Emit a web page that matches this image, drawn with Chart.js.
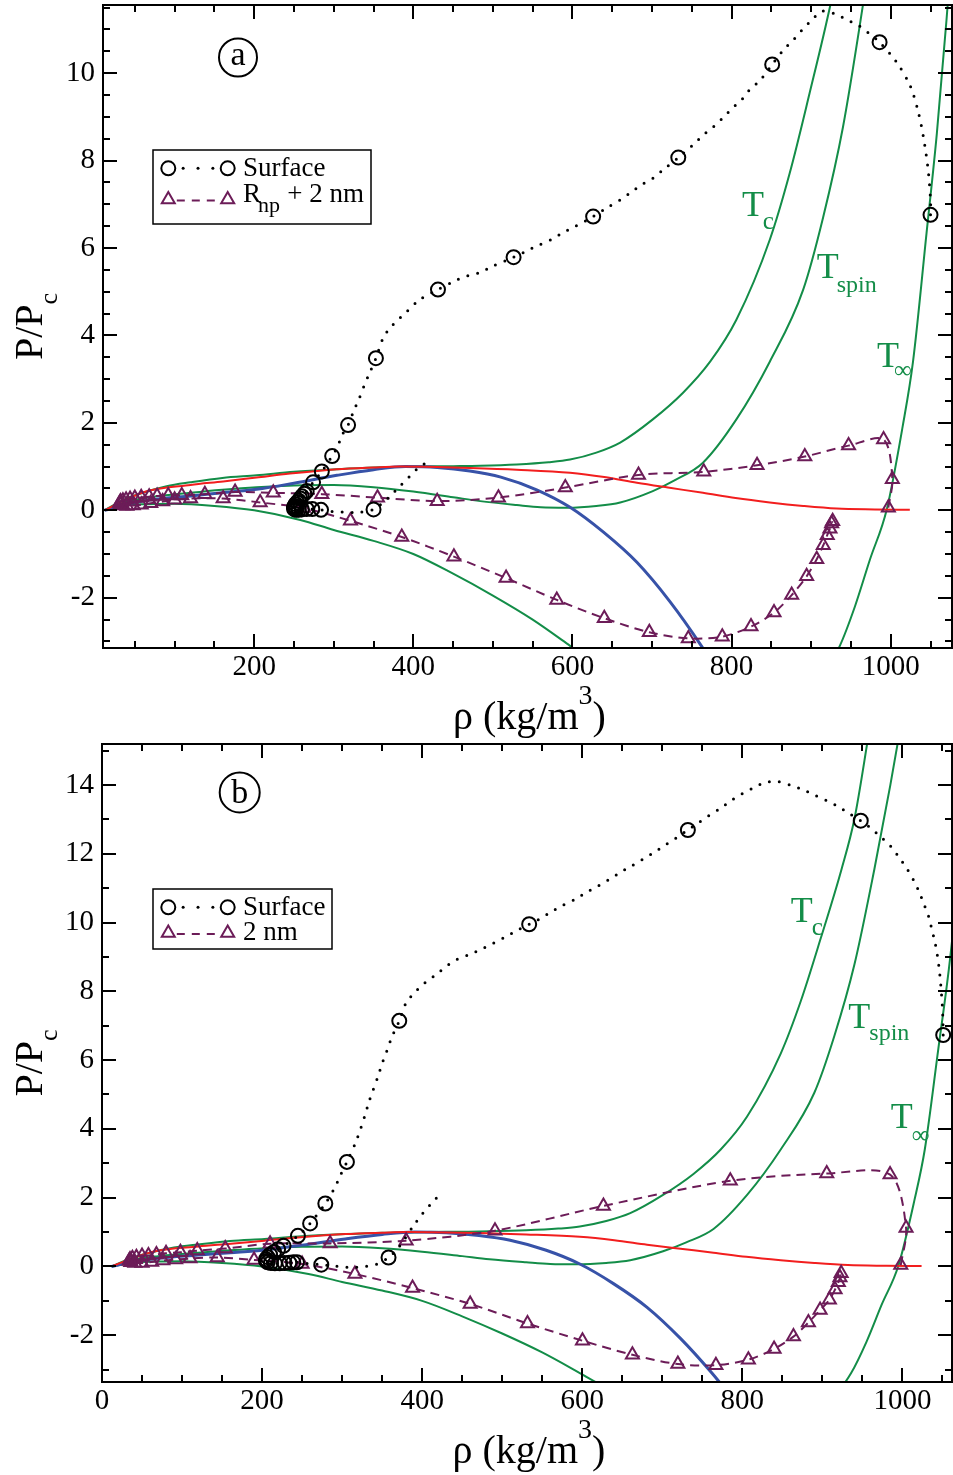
<!DOCTYPE html>
<html>
<head>
<meta charset="utf-8">
<script src="https://cdn.jsdelivr.net/npm/chart.js"></script>
<style>
html,body{margin:0;padding:0;background:#fff;}
canvas{position:absolute;left:0;}
#ca{top:0;}
#cb{top:738px;}
</style>
</head>
<body>
<canvas id="ca" width="953" height="738"></canvas>
<canvas id="cb" width="953" height="737"></canvas>
<script>
// ---------------- DATA ----------------
// axis ticks
const X_TICKS_A = [200, 400, 600, 800, 1000];
const Y_TICKS_A = [-2, 0, 2, 4, 6, 8, 10];
const X_TICKS_B = [0, 200, 400, 600, 800, 1000];
const Y_TICKS_B = [-2, 0, 2, 4, 6, 8, 10, 12, 14];

// isotherms and reference curves  [rho, P/Pc]
const T_C = [[12,0],[36,0.24],[60,0.40],[90,0.55],[120,0.64],[160,0.74],[203,0.80],[250,0.88],[304,0.94],[350,0.98],[404,1.00],[450,1.01],[484,1.02],[530,1.05],[570,1.10],[597,1.16],[630,1.32],[660,1.55],[701,2.08],[739,2.69],[773,3.40],[806,4.36],[848,6.19],[873,7.71],[898,9.54],[924,11.55],[940,13.0],[956,15.2],[972,17.6]];
const T_SPIN = [[12,0],[40,0.20],[70,0.30],[120,0.40],[160,0.47],[203,0.53],[250,0.57],[300,0.58],[350,0.53],[400,0.43],[450,0.30],[484,0.21],[530,0.12],[560,0.07],[593,0.06],[630,0.10],[660,0.18],[701,0.44],[730,0.70],[764,1.09],[806,2.08],[848,3.40],[890,5.05],[915,6.70],[940,8.77],[965,11.55],[985,14.0],[1000,16.0]];
const T_INF = [[12,0],[40,0.12],[66,0.14],[100,0.15],[150,0.10],[200,0.0],[258,-0.22],[300,-0.45],[350,-0.70],[400,-1.00],[450,-1.45],[500,-1.95],[550,-2.50],[597,-3.10],[650,-3.80],[700,-4.40],[760,-4.90],[820,-5.00],[870,-4.60],[910,-3.90],[936,-3.10],[955,-2.20],[974,-1.12],[995,0.02],[1015,1.92],[1028,3.40],[1045,6.34],[1058,8.63],[1070,11.2],[1082,14.0],[1092,16.5]];
const RED_CURVE = [[12,0],[36,0.22],[66,0.44],[120,0.58],[161,0.66],[203,0.75],[245,0.84],[304,0.94],[350,0.98],[383,1.00],[430,0.99],[471,0.97],[530,0.93],[597,0.86],[640,0.76],[681,0.63],[720,0.52],[764,0.40],[805,0.28],[848,0.18],[890,0.10],[932,0.04],[980,0.02],[1024,0.01]];
const BLUE_CURVE = [[12,0],[40,0.14],[70,0.24],[120,0.33],[160,0.40],[203,0.48],[250,0.62],[304,0.80],[350,0.93],[390,1.00],[430,0.98],[471,0.90],[510,0.76],[555,0.47],[597,0.07],[639,-0.50],[681,-1.19],[723,-2.10],[762,-3.10],[790,-3.90]];

// panel (a): Surface (dotted path + circle markers)
const SURF_A_LINE = [[1050,6.76],[1050,7.10],[1047,7.79],[1041,8.55],[1034,9.16],[1024,9.73],[1007,10.26],[986,10.71],[972,10.92],[959,11.10],[945,11.22],[931,11.35],[914,11.42],[901,11.22],[889,11.00],[878,10.77],[865,10.53],[851,10.20],[836,9.84],[823,9.63],[813,9.40],[801,9.20],[789,8.98],[777,8.77],[764,8.58],[752,8.37],[733,8.07],[714,7.79],[702,7.61],[688,7.46],[674,7.28],[660,7.10],[645,6.94],[626,6.72],[603,6.49],[588,6.35],[574,6.20],[558,6.07],[543,5.94],[526,5.79],[499,5.58],[484,5.44],[469,5.37],[455,5.27],[431,5.05],[408,4.82],[392,4.55],[381,4.36],[371,4.18],[362,3.94],[353,3.48],[344,3.10],[338,2.84],[332,2.56],[325,2.27],[318,1.95],[310,1.71],[305,1.46],[298,1.24],[285,0.89],[274,0.64],[266,0.44],[263,0.38],[260,0.32],[258,0.27],[256,0.22],[254,0.18],[252,0.14],[251,0.10],[250,0.07],[250,0.04],[251,0.02],[253,0.01],[256,0.01],[260,0.02],[266,0.03],[273,0.03],[284,0.01],[298,-0.03],[312,-0.04],[330,-0.05],[350,0.02],[362,0.18],[371,0.33],[383,0.55],[395,0.77],[407,0.98],[421,1.14]];
const SURF_A_MARK = [[1050,6.76],[986,10.71],[851,10.20],[733,8.07],[626,6.72],[526,5.79],[431,5.05],[353,3.48],[318,1.95],[298,1.24],[285,0.89],[274,0.64],[266,0.44],[263,0.38],[260,0.32],[258,0.27],[256,0.22],[254,0.18],[252,0.14],[251,0.10],[250,0.07],[250,0.04],[251,0.02],[253,0.01],[256,0.01],[260,0.02],[266,0.03],[273,0.03],[284,0.01],[350,0.02]];
// panel (a): R_np + 2 nm
const SHELL_A = [[997,0.06],[1002,0.71],[991,1.62],[947,1.48],[892,1.23],[832,1.03],[765,0.88],[683,0.81],[591,0.52],[507,0.29],[430,0.21],[355,0.29],[285,0.37],[224,0.40],[176,0.42],[138,0.37],[109,0.34],[92,0.34],[78,0.33],[68,0.31],[58,0.30],[50,0.28],[44,0.26],[39,0.24],[35,0.22],[32,0.20],[31,0.17],[32,0.14],[35,0.11],[40,0.10],[48,0.11],[58,0.13],[70,0.16],[85,0.20],[100,0.24],[120,0.27],[161,0.27],[207.5,0.18],[262,0.05],[321,-0.24],[385.5,-0.61],[451,-1.06],[516.6,-1.55],[580.3,-2.05],[640,-2.47],[696.6,-2.79],[745.6,-2.93],[788.3,-2.89],[824.4,-2.66],[853.3,-2.34],[875.5,-1.94],[894.3,-1.51],[907,-1.12],[915.2,-0.80],[920.2,-0.57],[923.6,-0.42],[925.7,-0.30],[927,-0.25]];

// panel (b): Surface
const SURF_B_LINE = [[1051,6.73],[1050.6,7.19],[1050,7.53],[1049,7.87],[1047.7,8.26],[1046,8.65],[1043.8,9.03],[1040.8,9.42],[1036.7,9.81],[1032.5,10.2],[1027,10.53],[1021,10.89],[1013.8,11.24],[1005.5,11.57],[995.9,11.89],[985.5,12.21],[974,12.47],[959.6,12.76],[948,12.96],[934.7,13.15],[920,13.37],[905.6,13.54],[891,13.7],[876.3,13.86],[860.6,13.99],[843.9,14.1],[828.5,14.07],[814,13.92],[799,13.73],[785.6,13.54],[772,13.31],[757.7,13.1],[744.5,12.89],[732,12.69],[718,12.47],[703.6,12.25],[689,12.03],[675.5,11.84],[662,11.65],[647,11.45],[632.8,11.24],[619,11.05],[604.5,10.87],[590,10.66],[575.7,10.5],[560,10.29],[546.6,10.1],[533.7,9.95],[518,9.76],[503.7,9.58],[489,9.4],[474.6,9.23],[460,9.08],[443,8.92],[431,8.74],[418,8.5],[404,8.26],[391,7.97],[380,7.67],[371.4,7.14],[362,6.66],[356,6.27],[349.7,5.88],[345,5.54],[334,4.82],[329,4.43],[318.5,3.7],[306,3.04],[297.6,2.64],[291.4,2.32],[279,1.83],[260,1.25],[244.8,0.89],[226.8,0.6],[220,0.5],[215,0.42],[210,0.34],[207,0.27],[205,0.21],[205,0.16],[207,0.12],[211,0.1],[216,0.09],[222,0.09],[228,0.1],[234,0.11],[239,0.12],[243.6,0.12],[258,0.08],[274,0.05],[295,0.0],[310,-0.03],[329,0.0],[343.5,0.07],[358,0.26],[370.5,0.55],[389,1.18],[399,1.49],[410,1.79],[421,2.07]];
const SURF_B_MARK = [[1051,6.73],[948,12.96],[732,12.69],[533.7,9.95],[371.4,7.14],[306,3.04],[279,1.83],[260,1.25],[244.8,0.89],[226.8,0.6],[220,0.5],[215,0.42],[210,0.34],[207,0.27],[205,0.21],[205,0.16],[207,0.12],[211,0.1],[216,0.09],[222,0.09],[228,0.1],[234,0.11],[239,0.12],[243.6,0.12],[274,0.05],[358,0.26]];
// panel (b): 2 nm
const SHELL_B = [[998,0.04],[1004.6,1.12],[984.6,2.67],[905.5,2.70],[785,2.49],[626.5,1.76],[491,1.04],[380,0.75],[285,0.67],[210,0.66],[154,0.52],[119,0.46],[98,0.41],[80,0.38],[68,0.35],[58,0.32],[50,0.30],[43,0.27],[38,0.24],[35,0.20],[34,0.16],[36,0.12],[41,0.10],[50,0.10],[62,0.13],[76,0.17],[92,0.20],[110,0.23],[144,0.26],[190,0.19],[250,0.07],[316,-0.22],[388,-0.63],[460,-1.09],[531.6,-1.66],[600.3,-2.16],[662.7,-2.57],[719.5,-2.84],[767,-2.87],[807.6,-2.71],[839.7,-2.40],[863.9,-2.04],[882.6,-1.63],[897.2,-1.27],[908.8,-0.97],[915.9,-0.67],[920,-0.46],[922,-0.32],[923.5,-0.20]];

// ---------------- STYLE ----------------
const FONT = '"Liberation Serif", "Times New Roman", Times, serif';
const GREEN = '#138d48', RED = '#f21e1e', BLUE = '#3752a8', PURPLE = '#6c1c58', BLACK = '#000000';

const pts = arr => arr.map(p => ({x: p[0], y: p[1]}));

function curve(label, arr, color, width, order) {
  return {label, data: pts(arr), showLine: true, borderColor: color, borderWidth: width,
    pointRadius: 0, fill: false, cubicInterpolationMode: 'monotone', order, clip: 0};
}
function path(label, arr, color, width, dash, order, cap) {
  return {label, data: pts(arr), showLine: true, borderColor: color, borderWidth: width,
    borderDash: dash, borderCapStyle: cap || 'butt', pointRadius: 0, fill: false, tension: 0.3, order, clip: 0};
}
function marks(label, arr, color, style, r, order) {
  return {label, data: pts(arr), showLine: false, pointStyle: style, pointRadius: r,
    pointBorderColor: color, pointBackgroundColor: 'rgba(0,0,0,0)', pointBorderWidth: 2,
    borderColor: color, backgroundColor: 'rgba(0,0,0,0)', order};
}

function rich(ctx, x, y, parts, align) {
  let w = 0;
  parts.forEach(p => { ctx.font = p.f; p.w = ctx.measureText(p.t).width; w += p.w; });
  let cx = align === 'center' ? x - w / 2 : x;
  parts.forEach(p => { ctx.font = p.f; ctx.fillText(p.t, cx, y + (p.dy || 0)); cx += p.w; });
}

function circleMark(ctx, x, y) { ctx.beginPath(); ctx.arc(x, y, 7, 0, Math.PI * 2); ctx.stroke(); }
function triMark(ctx, x, y) {
  const r = 7.5;
  ctx.beginPath(); ctx.moveTo(x, y - r); ctx.lineTo(x + 0.866 * r, y + 0.5 * r); ctx.lineTo(x - 0.866 * r, y + 0.5 * r); ctx.closePath(); ctx.stroke();
}

const decorPlugin = {
  id: 'decor',
  afterDraw(chart) {
    const o = chart.options.plugins.decor;
    if (!o) return;
    const ctx = chart.ctx, ca = chart.chartArea, xs = chart.scales.x, ys = chart.scales.y;
    ctx.save();
    ctx.strokeStyle = BLACK; ctx.lineWidth = 2; ctx.lineCap = 'butt'; ctx.setLineDash([]);
    ctx.strokeRect(ca.left, ca.top, ca.right - ca.left, ca.bottom - ca.top);
    const isMajor = (v, s) => Math.abs(v / s - Math.round(v / s)) < 1e-6;
    ctx.beginPath();
    for (let k = Math.ceil(xs.min / o.xMinor); k * o.xMinor <= xs.max; k++) {
      const v = k * o.xMinor, p = Math.round(xs.getPixelForValue(v));
      if (p <= ca.left + 1 || p >= ca.right - 1) continue;
      const L = isMajor(v, o.xMajor) ? 14 : 7;
      ctx.moveTo(p, ca.bottom); ctx.lineTo(p, ca.bottom - L);
      ctx.moveTo(p, ca.top); ctx.lineTo(p, ca.top + L);
    }
    for (let k = Math.ceil(ys.min / o.yMinor); k * o.yMinor <= ys.max; k++) {
      const v = k * o.yMinor, p = Math.round(ys.getPixelForValue(v));
      if (p <= ca.top + 1 || p >= ca.bottom - 1) continue;
      const L = isMajor(v, o.yMajor) ? 14 : 7;
      ctx.moveTo(ca.left, p); ctx.lineTo(ca.left + L, p);
      ctx.moveTo(ca.right, p); ctx.lineTo(ca.right - L, p);
    }
    ctx.stroke();

    // axis titles
    ctx.fillStyle = BLACK; ctx.textBaseline = 'alphabetic'; ctx.textAlign = 'left';
    rich(ctx, (ca.left + ca.right) / 2 + 2, o.xTitleY, [
      {t: 'ρ (kg/m', f: '40px ' + FONT},
      {t: '3', f: '28px ' + FONT, dy: -25},
      {t: ')', f: '40px ' + FONT}], 'center');
    ctx.save();
    ctx.translate(o.yTitleX, (ca.top + ca.bottom) / 2);
    ctx.rotate(-Math.PI / 2);
    rich(ctx, 0, 0, [{t: 'P/P', f: '40px ' + FONT}, {t: 'c', f: '26px ' + FONT, dy: 15}], 'center');
    ctx.restore();

    // panel letter
    ctx.lineWidth = 2;
    ctx.beginPath(); ctx.arc(o.panel.x, o.panel.y, o.panel.r, 0, Math.PI * 2); ctx.stroke();
    ctx.font = '34px ' + FONT; ctx.textAlign = 'center';
    ctx.fillText(o.panel.t, o.panel.x, o.panel.y + o.panel.dy);
    ctx.textAlign = 'left';

    // isotherm labels
    ctx.fillStyle = GREEN;
    o.tlabels.forEach(l => {
      ctx.font = '36px ' + FONT; ctx.fillText('T', l.x, l.y);
      ctx.font = l.sf + 'px ' + FONT; ctx.fillText(l.sub, l.sx, l.sy);
    });

    // legend
    const L = o.legend;
    ctx.fillStyle = '#ffffff'; ctx.fillRect(L.x, L.y, L.w, L.h);
    ctx.strokeStyle = BLACK; ctx.lineWidth = 1.5; ctx.strokeRect(L.x, L.y, L.w, L.h);
    const m1 = 168.3, m2 = 227.7;
    ctx.lineWidth = 2; ctx.strokeStyle = BLACK; ctx.fillStyle = BLACK;
    circleMark(ctx, m1, L.r1); circleMark(ctx, m2, L.r1);
    for (let k = 1; k <= 3; k++) { const dx = m1 + (m2 - m1) * k / 4; ctx.beginPath(); ctx.arc(dx, L.r1, 1.5, 0, Math.PI * 2); ctx.fill(); }
    ctx.font = '27px ' + FONT; ctx.fillText('Surface', 243, L.t1);
    ctx.strokeStyle = PURPLE; ctx.lineWidth = 2;
    triMark(ctx, m1, L.r2); triMark(ctx, m2, L.r2);
    ctx.save(); ctx.setLineDash([8, 7]); ctx.beginPath(); ctx.moveTo(m1 + 8.5, L.r2 + 1); ctx.lineTo(m2 - 8, L.r2 + 1); ctx.stroke(); ctx.restore();
    ctx.fillStyle = BLACK;
    L.parts2.forEach(p => { ctx.font = p.s + 'px ' + FONT; ctx.fillText(p.t, p.x, L.t2 + (p.dy || 0)); });
    ctx.restore();
  }
};

function makeChart(id, cfg) {
  const datasets = [
    marks('Surface', cfg.surfMark, BLACK, 'circle', 7, 0),
    path('Surface line', cfg.surfLine, BLACK, 3, [0, 10], 1, 'round'),
    marks(cfg.shellLabel, cfg.shell, PURPLE, 'triangle', 7.5, 2),
    path(cfg.shellLabel + ' line', cfg.shell, PURPLE, 2, [9, 6], 3),
    curve('red', RED_CURVE, RED, 2, 4),
    curve('blue', BLUE_CURVE, BLUE, 3, 5),
    curve('T_c', T_C, GREEN, 2, 6),
    curve('T_spin', T_SPIN, GREEN, 2, 6),
    curve('T_inf', T_INF, GREEN, 2, 6)
  ];
  return new Chart(document.getElementById(id), {
    type: 'scatter',
    data: {datasets},
    plugins: [decorPlugin],
    options: {
      responsive: false, animation: false, devicePixelRatio: 1, events: [],
      layout: {autoPadding: false, padding: {left: 0, right: 1, top: cfg.padTop, bottom: 0}},
      plugins: {legend: {display: false}, tooltip: {enabled: false}, decor: cfg.decor},
      scales: {
        x: {type: 'linear', min: cfg.xmin, max: cfg.xmax,
          afterBuildTicks: s => { s.ticks = cfg.xt.map(v => ({value: v})); },
          afterFit: s => { s.height = cfg.xh; s.paddingLeft = 0; s.paddingRight = 0; s.paddingTop = 0; s.paddingBottom = 0; },
          grid: {display: false, drawTicks: false}, border: {display: false},
          ticks: {font: {family: FONT, size: 29}, color: BLACK, padding: 2, maxRotation: 0, autoSkip: false,
            callback: v => String(v)}},
        y: {type: 'linear', min: cfg.ymin, max: cfg.ymax,
          afterBuildTicks: s => { s.ticks = cfg.yt.map(v => ({value: v})); },
          afterFit: s => { s.width = cfg.yw; s.paddingLeft = 0; s.paddingRight = 0; s.paddingTop = 0; s.paddingBottom = 0; },
          grid: {display: false, drawTicks: false}, border: {display: false},
          ticks: {font: {family: FONT, size: 29}, color: BLACK, padding: 8, autoSkip: false,
            callback: v => String(v)}}
      }
    }
  });
}

makeChart('ca', {
  surfMark: SURF_A_MARK, surfLine: SURF_A_LINE, shell: SHELL_A, shellLabel: 'Rnp + 2 nm',
  xmin: 10, xmax: 1077, ymin: -3.15, ymax: 11.56, xt: X_TICKS_A, yt: Y_TICKS_A,
  padTop: 5, xh: 90, yw: 103,
  decor: {
    xMinor: 50, xMajor: 200, yMinor: 0.5, yMajor: 2, xTitleY: 729, yTitleX: 42,
    panel: {x: 238, y: 57.5, r: 19, t: 'a', dy: 7.5},
    tlabels: [
      {x: 742, y: 216, sub: 'c', sx: 762.7, sy: 229, sf: 25},
      {x: 816.7, y: 277.7, sub: 'spin', sx: 836.7, sy: 291.7, sf: 24},
      {x: 877, y: 367, sub: '∞', sx: 894, sy: 377.5, sf: 25}],
    legend: {x: 153, y: 150, w: 218, h: 74, r1: 168.3, t1: 176, r2: 199.5, t2: 201.7,
      parts2: [{t: 'R', x: 243, s: 27}, {t: 'np', x: 258, s: 22, dy: 10}, {t: '+ 2 nm', x: 287.3, s: 27}]}
  }
});

makeChart('cb', {
  surfMark: SURF_B_MARK, surfLine: SURF_B_LINE, shell: SHELL_B, shellLabel: '2 nm',
  xmin: 0, xmax: 1062, ymin: -3.36, ymax: 15.19, xt: X_TICKS_B, yt: Y_TICKS_B,
  padTop: 6, xh: 93, yw: 102,
  decor: {
    xMinor: 50, xMajor: 200, yMinor: 1, yMajor: 2, xTitleY: 725, yTitleX: 42,
    panel: {x: 239.7, y: 54.5, r: 20, t: 'b', dy: 10},
    tlabels: [
      {x: 790.7, y: 183.7, sub: 'c', sx: 811.7, sy: 197, sf: 25},
      {x: 848.3, y: 290.3, sub: 'spin', sx: 869.3, sy: 302, sf: 24},
      {x: 890.7, y: 390.3, sub: '∞', sx: 911.7, sy: 404.5, sf: 25}],
    legend: {x: 153, y: 151, w: 179, h: 60, r1: 169.3, t1: 177, r2: 195, t2: 202,
      parts2: [{t: '2 nm', x: 243, s: 27}]}
  }
});
</script>
</body>
</html>
